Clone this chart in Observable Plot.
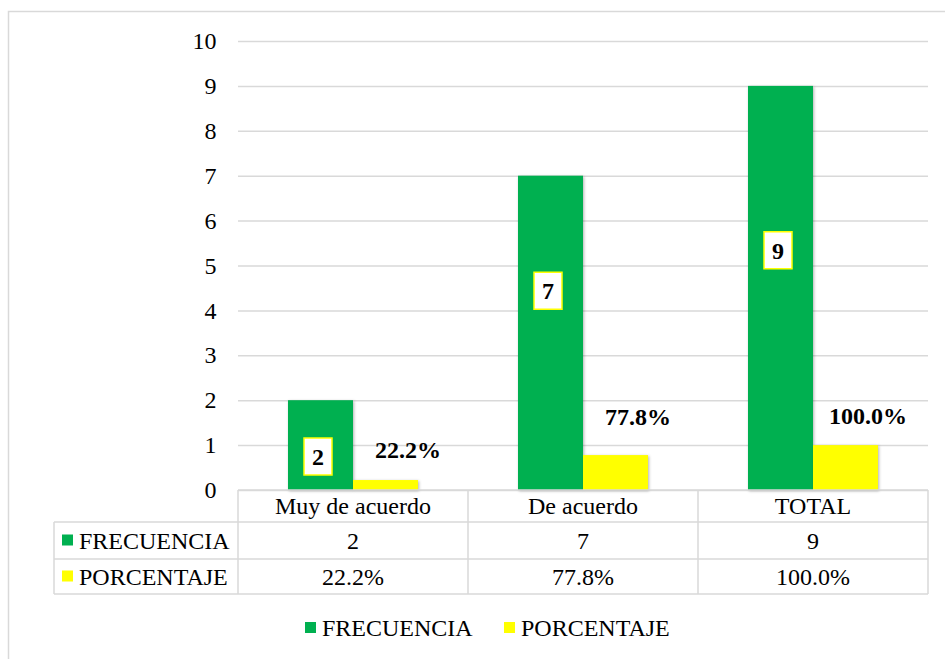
<!DOCTYPE html>
<html>
<head>
<meta charset="utf-8">
<script src="https://cdn.jsdelivr.net/npm/d3@7"></script>
<script src="https://cdn.jsdelivr.net/npm/@observablehq/plot@0.6"></script>
<style>
  html, body { margin: 0; padding: 0; background: #fff; }
  #chart { width: 945px; height: 659px; overflow: hidden; }
  #chart svg, #chart svg text { font-family: "Liberation Serif", "Times New Roman", serif !important; }
</style>
</head>
<body>
<div id="chart"></div>
<script>
// ---- data ----
const categories = ["Muy de acuerdo", "De acuerdo", "TOTAL"];
const series = ["FRECUENCIA", "PORCENTAJE"];
const frecuencia = [2, 7, 9];
const porcentaje = [0.222, 0.778, 1.0];
const yTicks = [0, 1, 2, 3, 4, 5, 6, 7, 8, 9, 10];
// label anchors (in value units) as placed in the original chart
const freqLabelAt = [0.76, 4.45, 5.35];
const pctLabelAt = [0.89, 1.63, 1.65];

const colors = ["#00b050", "#ffff00"];
const FONT = "Liberation Serif, Times New Roman, serif";
const FS = 24;
const grid = "#d9d9d9";
const pctFmt = d3.format(".1%");

const rows = categories.flatMap((c, i) => [
  {cat: c, series: series[0], value: frecuencia[i]},
  {cat: c, series: series[1], value: porcentaje[i]}
]);
const freqRows = categories.map((c, i) => ({cat: c, value: frecuencia[i], at: freqLabelAt[i]}));
const pctRows = categories.map((c, i) => ({cat: c, value: porcentaje[i], at: pctLabelAt[i]}));

const boxSymbol = {
  draw(ctx) {
    ctx.moveTo(-14, -18.5);
    ctx.lineTo(14, -18.5);
    ctx.lineTo(14, 18.5);
    ctx.lineTo(-14, 18.5);
    ctx.closePath();
  }
};

const chart = Plot.plot({
  width: 945,
  height: 659,
  marginLeft: 237,
  marginRight: 16,
  marginTop: 41,
  marginBottom: 169,
  style: {fontFamily: FONT, fontSize: FS + "px", color: "#000", background: "#fff"},
  fx: {domain: categories, padding: 0, axis: null},
  x: {domain: series, paddingInner: 0, paddingOuter: 0.747, axis: null},
  y: {domain: [0, 10], axis: null},
  color: {domain: series, range: colors},
  marks: [
    Plot.gridY(yTicks, {stroke: grid, strokeOpacity: 1, strokeWidth: 1.5}),
    Plot.axisY(yTicks, {tickSize: 0, tickPadding: 22, fontSize: FS, fontFamily: FONT, fill: "#000", label: null}),
    Plot.barY(rows, {fx: "cat", x: "series", y: "value", fill: "series"}),
    Plot.dot(freqRows, {fx: "cat", x: () => series[0], y: "at", symbol: boxSymbol, fill: "#fff", stroke: "#ffff00", strokeWidth: 1.5, dx: -3}),
    Plot.text(freqRows, {fx: "cat", x: () => series[0], y: "at", text: d => String(d.value), fontFamily: FONT, fontWeight: "bold", fontSize: FS, fill: "#000", dx: -3, dy: 1}),
    Plot.text(pctRows, {fx: "cat", x: () => series[1], y: "at", text: d => pctFmt(d.value), fontFamily: FONT, fontWeight: "bold", fontSize: FS, fill: "#000", dx: 22})
  ]
});

document.getElementById("chart").appendChild(chart);

// subtle bar shadow like the original
d3.select(chart).selectAll("g[aria-label='bar'] rect").style("filter", "drop-shadow(1.5px 1.5px 1.5px rgba(0,0,0,0.3))");

// ---- data table and legend, placed with the chart's own scales ----
const svg = d3.select(chart);
const fxS = chart.scale("fx");
const yS = chart.scale("y");
const bw = fxS.bandwidth;
const left = c => fxS.apply(c);
const xStart = left(categories[0]);
const xEnd = left(categories[categories.length - 1]) + bw;
const y0 = yS.apply(0);
const tableLeft = 54;
const rowY = [y0, y0 + 32, y0 + 69, y0 + 104];

// outer frame
svg.insert("rect", ":first-child")
  .attr("x", 8.5).attr("y", 11.5).attr("width", 1000).attr("height", 1000)
  .attr("fill", "none").attr("stroke", grid).attr("stroke-width", 1.5);

const tg = svg.append("g").attr("font-family", FONT).attr("font-size", FS).attr("fill", "#000").attr("text-anchor", "start");
const line = (x1, y1, x2, y2) => tg.append("line").attr("x1", x1).attr("y1", y1).attr("x2", x2).attr("y2", y2)
  .attr("stroke", grid).attr("stroke-width", 1.5);

line(xStart, rowY[0], xEnd, rowY[0]);
for (let k = 1; k < 4; k++) line(tableLeft, rowY[k], xEnd, rowY[k]);
line(tableLeft, rowY[1], tableLeft, rowY[3]);
const bounds = categories.map(left).concat([xEnd]);
bounds.forEach(b => line(b, rowY[0], b, rowY[3]));

const mid = k => (rowY[k] + rowY[k + 1]) / 2;
const txt = (x, y, s, anchor) => tg.append("text").attr("x", x).attr("y", y).attr("dy", "0.35em")
  .attr("text-anchor", anchor).attr("font-family", FONT).text(s);
categories.forEach((c, i) => {
  const cx = left(c) + bw / 2;
  txt(cx, mid(0), c, "middle");
  txt(cx, mid(1), String(frecuencia[i]), "middle");
  txt(cx, mid(2), pctFmt(porcentaje[i]), "middle");
});
series.forEach((s, k) => {
  const cy = mid(k + 1);
  tg.append("rect").attr("x", 62).attr("y", cy - 6).attr("width", 11).attr("height", 11).attr("fill", colors[k]);
  txt(79, cy, s, "start");
});

// legend
const legY = 628;
const legX = [305, 504];
series.forEach((s, k) => {
  tg.append("rect").attr("x", legX[k]).attr("y", legY - 6).attr("width", 11).attr("height", 11).attr("fill", colors[k]);
  txt(legX[k] + 17, legY, s, "start");
});
</script>
</body>
</html>
